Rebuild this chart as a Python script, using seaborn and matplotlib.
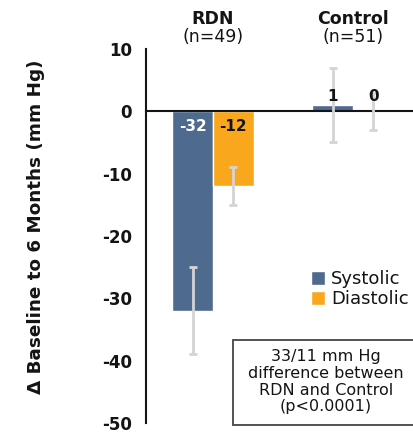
import numpy as np
import pandas as pd
import matplotlib
matplotlib.use("Agg")
import matplotlib.pyplot as plt
from matplotlib.patches import Rectangle
import seaborn as sns

# data
groups = ["RDN", "Control"]
n_labels = ["(n=49)", "(n=51)"]
measures = ["Systolic", "Diastolic"]
systolic = [-32, 1]
diastolic = [-12, 0]
systolic_sd = [7, 6]
diastolic_sd = [3, 3]
yticks = [10, 0, -10, -20, -30, -40, -50]
note = "33/11 mm Hg\ndifference between\nRDN and Control\n(p<0.0001)"

blue = "#4f6a8f"
orange = "#f9a81e"
dark = "#141414"

df = pd.DataFrame({
    "group": groups * 2,
    "measure": [measures[0]] * 2 + [measures[1]] * 2,
    "change": systolic + diastolic,
    "sd": systolic_sd + diastolic_sd,
})

sns.set_style("white")
plt.rcParams["font.family"] = ["DejaVu Sans"]
plt.rcParams["text.color"] = dark
plt.rcParams["axes.labelcolor"] = dark

fig = plt.figure(figsize=(4.13, 4.34), dpi=100)
ax = fig.add_axes([0.3535, 0.0253, 0.6465, 0.862])

sns.barplot(data=df, x="group", y="change", hue="measure",
            palette=[blue, orange], width=0.58, errorbar=None,
            saturation=1, ax=ax)

# error bars and value labels on top of the seaborn bars
for cont, m in zip(ax.containers, measures):
    sub = df[df["measure"] == m]
    xs = [p.get_x() + p.get_width() / 2 for p in cont.patches]
    ax.errorbar(xs, sub["change"], yerr=sub["sd"], fmt="none",
                ecolor="#d4d4d4", elinewidth=2, capsize=3, capthick=2,
                zorder=4)
    for x, v in zip(xs, sub["change"]):
        if v < 0:
            col = "white" if m == "Systolic" else dark
            ax.text(x, -2.5, str(v), ha="center", va="center",
                    fontsize=11, fontweight="bold", color=col, zorder=5)
        else:
            ax.text(x, 2.4, str(v), ha="center", va="center",
                    fontsize=11, fontweight="bold", color=dark, zorder=5)

ax.set_ylim(-50, 10)
ax.set_xlim(-0.479, 1.429)
ax.set_yticks(yticks)
ax.set_yticklabels([str(t) for t in yticks], fontsize=12, fontweight="bold")
ax.set_xticks([0.5])
ax.set_xticklabels([""])
ax.set_xlabel("")
ax.set_ylabel("\u0394 Baseline to 6 Months (mm Hg)", fontsize=13.2,
              fontweight="bold")
ax.yaxis.set_label_coords(-0.378, 0.524)

for s in ["top", "right"]:
    ax.spines[s].set_visible(False)
ax.spines["bottom"].set_position(("data", 0))
ax.spines["bottom"].set_color(dark)
ax.spines["bottom"].set_linewidth(1.5)
ax.spines["left"].set_color(dark)
ax.spines["left"].set_linewidth(1.5)
ax.tick_params(axis="y", direction="out", length=6, width=1.5, colors=dark,
               pad=4)
ax.tick_params(axis="x", direction="out", length=5, width=1.5, colors=dark)

# group headers above the plot
trans = ax.get_xaxis_transform()
for i, (g, n) in enumerate(zip(groups, n_labels)):
    ax.text(i, 1.080, g, transform=trans, ha="center", va="center",
            fontsize=12.5, fontweight="bold", clip_on=False)
    ax.text(i, 1.031, n, transform=trans, ha="center", va="center",
            fontsize=12.5, clip_on=False)

ax.legend(loc="upper left", bbox_to_anchor=(0.752, 0.378),
          bbox_transform=fig.transFigure, frameon=False, fontsize=13,
          handlelength=0.8, handleheight=0.8, handletextpad=0.35,
          labelspacing=0.12, borderaxespad=0, borderpad=0)

# note box in the lower right corner
fig.patches.append(Rectangle((0.564, 0.0207), 0.46, 0.196,
                             transform=fig.transFigure, facecolor="white",
                             edgecolor="#444444", linewidth=1.3, zorder=3))
fig.text(0.789, 0.1207, note, ha="center", va="center", fontsize=11.5,
         linespacing=1.15, zorder=4)

fig.savefig("out.png", dpi=100)
